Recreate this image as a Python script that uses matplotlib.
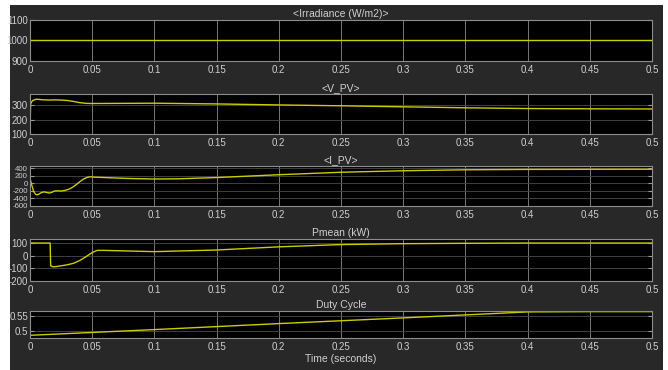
import matplotlib
matplotlib.use('Agg')
import matplotlib.pyplot as plt
from matplotlib.patches import Rectangle

plt.rcParams['font.family'] = ['Liberation Sans', 'DejaVu Sans']

# scope signals (time in seconds)
t_irr = [0, 0.5]
irr = [1000, 1000]

t_v = [0, 0.0005, 0.002, 0.005, 0.01, 0.015, 0.02, 0.025, 0.03, 0.035, 0.04,
       0.045, 0.05, 0.1, 0.15, 0.2, 0.25, 0.3, 0.35, 0.4, 0.45, 0.5]
v_pv = [120, 310, 332, 342, 338, 336, 337, 336, 333, 326, 318,
        313, 312, 314, 309, 302, 296, 289, 282, 277, 275, 274]

t_i = [0, 0.0015, 0.003, 0.0045, 0.0055, 0.007, 0.009, 0.011, 0.013, 0.0155,
       0.0175, 0.0195, 0.022, 0.025, 0.028, 0.031, 0.034, 0.037, 0.040, 0.043,
       0.046, 0.0485, 0.051, 0.06, 0.08, 0.1, 0.12, 0.15, 0.2, 0.25, 0.3,
       0.35, 0.4, 0.45, 0.5]
i_pv = [130, -60, -220, -290, -305, -290, -250, -228, -240, -258,
        -240, -205, -200, -205, -190, -160, -110, -40, 40, 110,
        155, 172, 162, 150, 125, 112, 118, 150, 225, 290, 330,
        355, 365, 368, 370]

t_p = [0, 0.0162, 0.0166, 0.0185, 0.021, 0.025, 0.03, 0.035, 0.04, 0.045,
       0.05, 0.054, 0.06, 0.08, 0.1, 0.15, 0.2, 0.25, 0.3, 0.35, 0.4, 0.45, 0.5]
pmean = [100, 100, -80, -88, -86, -80, -72, -60, -38, -8,
         25, 42, 42, 37, 32, 45, 70, 88, 95, 98, 100, 100, 100]

t_d = [0, 0.1, 0.2, 0.3, 0.4, 0.45, 0.5]
duty = [0.486, 0.505, 0.525, 0.544, 0.564, 0.565, 0.565]

titles = ['<Irradiance (W/m2)>', '<V_PV>', '<I_PV>', 'Pmean (kW)', 'Duty Cycle']
yticks = [[900, 1000, 1100], [100, 200, 300], [-600, -400, -200, 0, 200, 400],
          [-200, -100, 0, 100], [0.5, 0.55]]
ylims = [(900, 1100), (100, 378), (-600, 455), (-200, 132), (0.477, 0.567)]
series = [(t_irr, irr), (t_v, v_pv), (t_i, i_pv), (t_p, pmean), (t_d, duty)]
xticks = [0, 0.05, 0.1, 0.15, 0.2, 0.25, 0.3, 0.35, 0.4, 0.45, 0.5]

# panel extents in pixels (top, bottom)
W, H = 668, 370
panels = [(20, 61), (94, 134), (166, 206), (239, 281), (311, 338)]
left, right = 30, 652

bg = '#282828'
txt = '#cfcfcf'
line_col = '#cccc00'

fig = plt.figure(figsize=(W / 100, H / 100), dpi=100, facecolor='white')
fig.patches.append(Rectangle((10 / W, 0), 653 / W, 365 / H, transform=fig.transFigure,
                             facecolor=bg, edgecolor='none', zorder=-10))

for k, (top, bot) in enumerate(panels):
    ax = fig.add_axes([left / W, 1 - bot / H, (right - left) / W, (bot - top) / H])
    ax.set_facecolor('black')
    tx, ty = series[k]
    ax.plot(tx, ty, color=line_col, lw=1.0)
    ax.set_xlim(0, 0.5)
    ax.set_ylim(*ylims[k])
    ax.set_xticks(xticks)
    ax.set_xticklabels(['0' if x == 0 else f'{x:g}' for x in xticks])
    ax.set_yticks(yticks[k])
    ax.set_yticklabels([f'{y:g}' for y in yticks[k]])
    # the I_PV axis is short, so its labels sit tight
    ysize = 5.6 if k == 2 else 7
    ax.tick_params(axis='x', length=0, pad=3, labelsize=7, labelcolor=txt)
    ax.tick_params(axis='y', direction='in', length=3, width=0.8, pad=1.5,
                   labelsize=ysize, labelcolor=txt, color='#9a9a9a', right=True)
    ax.grid(True, axis='x', color='#8a8a8a', lw=0.6)
    ax.grid(True, axis='y', color='#4a4a4a', lw=0.6)
    for s in ax.spines.values():
        s.set_color('#8c8c8c')
        s.set_linewidth(0.8)
    ax.set_title(titles[k], color=txt, fontsize=7.5, pad=2)
    if k == len(panels) - 1:
        ax.set_xlabel('Time (seconds)', color=txt, fontsize=7.5, labelpad=1)

fig.savefig('out.png', dpi=100, facecolor=fig.get_facecolor())
